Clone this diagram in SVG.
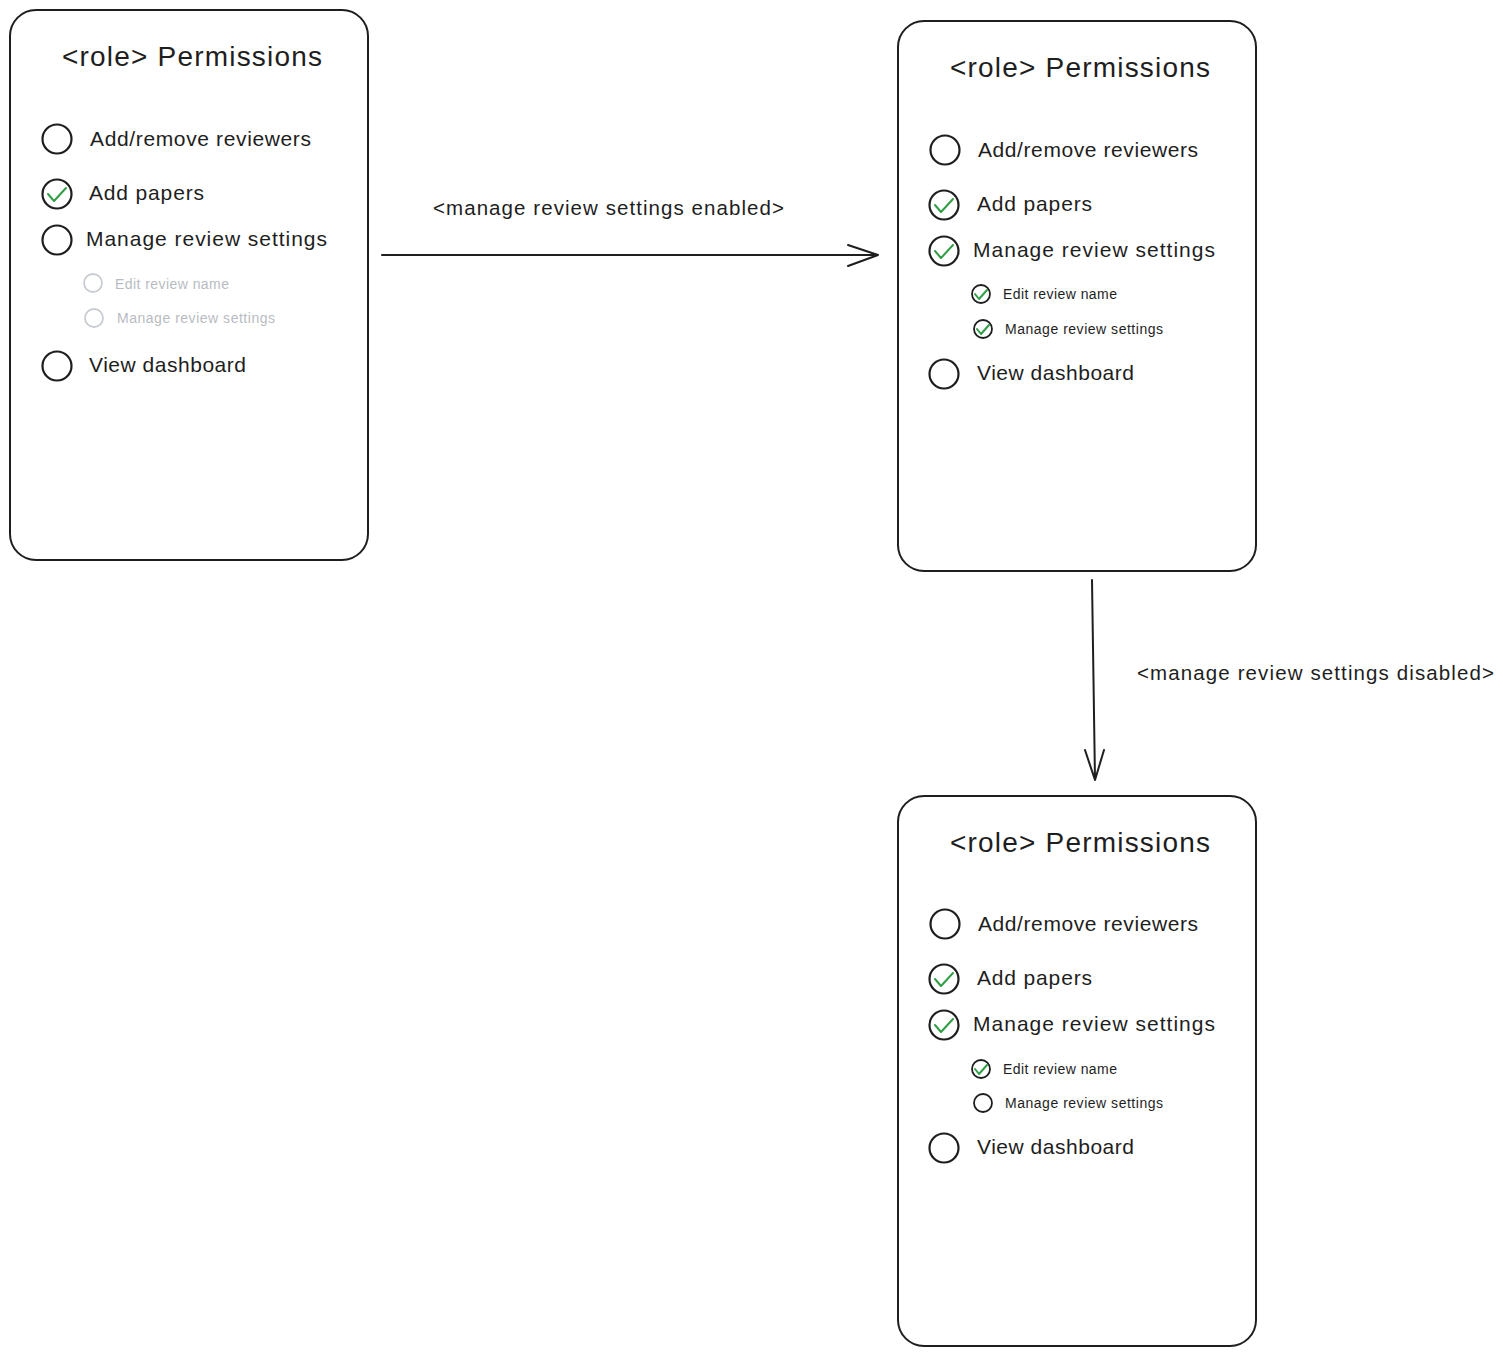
<svg xmlns="http://www.w3.org/2000/svg" width="1503" height="1355" viewBox="0 0 1503 1355">
<style>
.card{fill:#fff;stroke:#1e1e1e;stroke-width:2}
.t{font-family:"Liberation Sans",Arial,sans-serif;fill:#1e1e1e}
.title{font-size:28px}
.item{font-size:21px}
.sub{font-size:14px}
.faded{fill:#b8bcc2}
.lbl{font-size:20.5px}
.cb{fill:none;stroke:#1e1e1e;stroke-width:2.2}
.cbs{fill:none;stroke:#1e1e1e;stroke-width:1.8}
.cbf{fill:none;stroke:#c9ccd1;stroke-width:1.8}
.chk{fill:none;stroke:#2f9e44;stroke-width:2;stroke-linecap:round;stroke-linejoin:round}
.conn{fill:none;stroke:#1e1e1e;stroke-width:2;stroke-linecap:round;stroke-linejoin:round}
</style>
<defs>
<g id="box"><circle r="14.5" class="cb"/></g>
<g id="boxc"><circle r="14.5" class="cb"/><polyline class="chk" points="-9,0 -3,7 9,-6"/></g>
<g id="sbox"><circle r="9" class="cbs"/></g>
<g id="sboxc"><circle r="9" class="cbs"/><polyline class="chk" points="-6,0 -2,5 6,-4"/></g>
<g id="fbox"><circle r="9" class="cbf"/></g>
</defs>
<rect width="1503" height="1355" fill="#fff"/>

<g id="card1">
<rect class="card" x="10" y="10" width="358" height="550" rx="26"/>
<text class="t title" x="62" y="66" textLength="260" lengthAdjust="spacing">&lt;role&gt; Permissions</text>
<use href="#box" x="57" y="139"/>
<text class="t item" x="90" y="146" textLength="221" lengthAdjust="spacing">Add/remove reviewers</text>
<use href="#boxc" x="57" y="194"/>
<text class="t item" x="89" y="200" textLength="115" lengthAdjust="spacing">Add papers</text>
<use href="#box" x="57" y="240"/>
<text class="t item" x="86" y="246" textLength="241" lengthAdjust="spacing">Manage review settings</text>
<use href="#fbox" x="93" y="283"/>
<text class="t sub faded" x="115" y="289" textLength="114" lengthAdjust="spacing">Edit review name</text>
<use href="#fbox" x="94" y="318"/>
<text class="t sub faded" x="117" y="323" textLength="158" lengthAdjust="spacing">Manage review settings</text>
<use href="#box" x="57" y="366"/>
<text class="t item" x="89" y="372" textLength="157" lengthAdjust="spacing">View dashboard</text>
</g>

<g id="card2">
<rect class="card" x="898" y="21" width="358" height="550" rx="26"/>
<text class="t title" x="950" y="77" textLength="260" lengthAdjust="spacing">&lt;role&gt; Permissions</text>
<use href="#box" x="945" y="150"/>
<text class="t item" x="978" y="157" textLength="220" lengthAdjust="spacing">Add/remove reviewers</text>
<use href="#boxc" x="944" y="205"/>
<text class="t item" x="977" y="211" textLength="115" lengthAdjust="spacing">Add papers</text>
<use href="#boxc" x="944" y="251"/>
<text class="t item" x="973" y="257" textLength="242" lengthAdjust="spacing">Manage review settings</text>
<use href="#sboxc" x="981" y="294"/>
<text class="t sub" x="1003" y="299" textLength="114" lengthAdjust="spacing">Edit review name</text>
<use href="#sboxc" x="983" y="329"/>
<text class="t sub" x="1005" y="334" textLength="158" lengthAdjust="spacing">Manage review settings</text>
<use href="#box" x="944" y="374"/>
<text class="t item" x="977" y="380" textLength="157" lengthAdjust="spacing">View dashboard</text>
</g>

<g id="card3">
<rect class="card" x="898" y="796" width="358" height="550" rx="26"/>
<text class="t title" x="950" y="852" textLength="260" lengthAdjust="spacing">&lt;role&gt; Permissions</text>
<use href="#box" x="945" y="924"/>
<text class="t item" x="978" y="931" textLength="220" lengthAdjust="spacing">Add/remove reviewers</text>
<use href="#boxc" x="944" y="979"/>
<text class="t item" x="977" y="985" textLength="115" lengthAdjust="spacing">Add papers</text>
<use href="#boxc" x="944" y="1025"/>
<text class="t item" x="973" y="1031" textLength="242" lengthAdjust="spacing">Manage review settings</text>
<use href="#sboxc" x="981" y="1069"/>
<text class="t sub" x="1003" y="1074" textLength="114" lengthAdjust="spacing">Edit review name</text>
<use href="#sbox" x="983" y="1103"/>
<text class="t sub" x="1005" y="1108" textLength="158" lengthAdjust="spacing">Manage review settings</text>
<use href="#box" x="944" y="1148"/>
<text class="t item" x="977" y="1154" textLength="157" lengthAdjust="spacing">View dashboard</text>
</g>

<g id="connectors">
<path class="conn" d="M382,255 L878,255 M848,245 L878,255 L848,266"/>
<text class="t lbl" x="433" y="215" textLength="351" lengthAdjust="spacing">&lt;manage review settings enabled&gt;</text>
<path class="conn" d="M1092,580 L1095,780 M1085,750 L1095,780 L1104,750"/>
<text class="t lbl" x="1137" y="680" textLength="357" lengthAdjust="spacing">&lt;manage review settings disabled&gt;</text>
</g>
</svg>
